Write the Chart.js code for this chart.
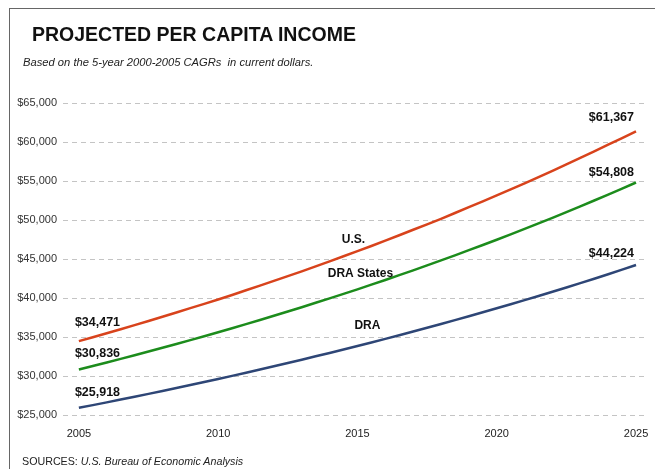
<!DOCTYPE html>
<html>
<head>
<meta charset="utf-8">
<script src="https://cdn.jsdelivr.net/npm/chart.js"></script>
<style>
  html, body {
    margin: 0;
    padding: 0;
    background: #ffffff;
  }
  body {
    width: 655px;
    height: 469px;
    position: relative;
    overflow: hidden;
    font-family: 'Liberation Sans', Arial, sans-serif;
    color: #111;
  }
  .frame {
    position: absolute;
    left: 9px;
    top: 8px;
    width: 700px;
    height: 500px;
    border-top: 1.5px solid #666;
    border-left: 1.5px solid #666;
  }
  .title {
    position: absolute;
    left: 32px;
    top: 25px;
    font-size: 19.5px;
    line-height: 19.5px;
    font-weight: bold;
    white-space: nowrap;
  }
  .subtitle {
    position: absolute;
    left: 23px;
    top: 57px;
    font-size: 11.2px;
    line-height: 11px;
    font-style: italic;
    color: #222;
    white-space: nowrap;
  }
  .source {
    position: absolute;
    left: 22px;
    top: 456px;
    font-size: 10.7px;
    line-height: 11px;
    color: #222;
    white-space: nowrap;
  }
  #wrap {
    position: absolute;
    left: 0;
    top: 0;
    width: 655px;
    height: 469px;
  }
</style>
</head>
<body>

<div class="frame"></div>

<div id="wrap"><canvas id="incomeChart"></canvas></div>

<div class="title">PROJECTED PER CAPITA INCOME</div>
<div class="subtitle">Based on the 5-year 2000-2005 CAGRs&nbsp; in current dollars.</div>
<div class="source">SOURCES: <i>U.S. Bureau of Economic Analysis</i></div>

<script>
const years = [2005, 2006, 2007, 2008, 2009, 2010, 2011, 2012, 2013, 2014, 2015,
               2016, 2017, 2018, 2019, 2020, 2021, 2022, 2023, 2024, 2025];

const usIncome = [34471, 35480, 36520, 37600, 38700, 39800, 40990, 42200, 43420, 44700, 46000,
                  47350, 48750, 50150, 51650, 53150, 54700, 56300, 57950, 59650, 61367];

const draStatesIncome = [30836, 31740, 32660, 33620, 34600, 35600, 36650, 37720, 38820, 39950, 41110,
                         42310, 43550, 44820, 46130, 47470, 48860, 50280, 51750, 53260, 54808];

const draIncome = [25918, 26620, 27340, 28080, 28840, 29620, 30420, 31240, 32090, 32960, 33850,
                   34760, 35700, 36670, 37660, 38680, 39730, 40800, 41910, 43040, 44224];

const xTicks = [2005, 2010, 2015, 2020, 2025];

const money = v => '$' + Number(v).toLocaleString('en-US');

const toPoints = arr => arr.map((v, i) => ({ x: years[i], y: v }));

// labels on the lines: start value, end value, series name
const lineLabels = {
  id: 'lineLabels',
  afterDatasetsDraw(chart) {
    const ctx = chart.ctx;
    const xs = chart.scales.x;
    const ys = chart.scales.y;
    const last = years.length - 1;

    ctx.save();
    ctx.fillStyle = '#111';
    ctx.textBaseline = 'middle';

    ctx.font = "bold 12.5px 'Liberation Sans', Arial, sans-serif";
    chart.data.datasets.forEach((ds, i) => {
      const vals = ds.data;
      const offs = [[-19, -16, -15], [-14, -10, -12]];
      ctx.textAlign = 'left';
      ctx.fillText(money(vals[0].y), xs.getPixelForValue(years[0]) - 4, ys.getPixelForValue(vals[0].y) + offs[0][i]);
      ctx.textAlign = 'right';
      ctx.fillText(money(vals[last].y), xs.getPixelForValue(years[last]) - 2, ys.getPixelForValue(vals[last].y) + offs[1][i]);
    });

    ctx.font = "bold 12px 'Liberation Sans', Arial, sans-serif";
    ctx.textAlign = 'center';
    const mid = 10;
    const names = [
      { text: 'U.S.', ds: 0, dx: -4, dy: -12 },
      { text: 'DRA States', ds: 1, dx: 3, dy: -16 },
      { text: 'DRA', ds: 2, dx: 10, dy: -20 }
    ];
    names.forEach(n => {
      const p = chart.data.datasets[n.ds].data[mid];
      ctx.fillText(n.text, xs.getPixelForValue(p.x) + n.dx, ys.getPixelForValue(p.y) + n.dy);
    });
    ctx.restore();
  }
};

new Chart(document.getElementById('incomeChart'), {
  type: 'line',
  data: {
    datasets: [
      {
        label: 'U.S.',
        data: toPoints(usIncome),
        borderColor: '#d8431c',
        borderWidth: 2.5,
        pointRadius: 0,
        tension: 0.2
      },
      {
        label: 'DRA States',
        data: toPoints(draStatesIncome),
        borderColor: '#1c8c1c',
        borderWidth: 2.5,
        pointRadius: 0,
        tension: 0.2
      },
      {
        label: 'DRA',
        data: toPoints(draIncome),
        borderColor: '#2e4676',
        borderWidth: 2.5,
        pointRadius: 0,
        tension: 0.2
      }
    ]
  },
  options: {
    responsive: true,
    maintainAspectRatio: false,
    animation: false,
    layout: {
      padding: { top: 103, right: 7, bottom: 24, left: 0 }
    },
    plugins: {
      legend: { display: false },
      tooltip: { enabled: false }
    },
    scales: {
      x: {
        type: 'linear',
        min: 2004.43,
        max: 2025.43,
        afterBuildTicks: scale => {
          scale.ticks = xTicks.map(v => ({ value: v }));
        },
        afterFit: scale => {
          scale.height = 30;
          scale.paddingLeft = 0;
          scale.paddingRight = 0;
        },
        grid: { display: false, drawTicks: false },
        border: { display: false },
        ticks: {
          padding: 12,
          autoSkip: false,
          maxRotation: 0,
          color: '#222',
          font: { family: "'Liberation Sans', Arial, sans-serif", size: 11 },
          callback: v => String(v)
        }
      },
      y: {
        min: 25000,
        max: 65000,
        afterFit: scale => { scale.width = 63; },
        grid: {
          color: '#c4c4c4',
          lineWidth: 1,
          drawTicks: false
        },
        border: { display: false, dash: [5, 4] },
        ticks: {
          stepSize: 5000,
          padding: 6,
          color: '#333',
          font: { family: "'Liberation Sans', Arial, sans-serif", size: 11 },
          callback: v => money(v)
        }
      }
    }
  },
  plugins: [lineLabels]
});
</script>

</body>
</html>
